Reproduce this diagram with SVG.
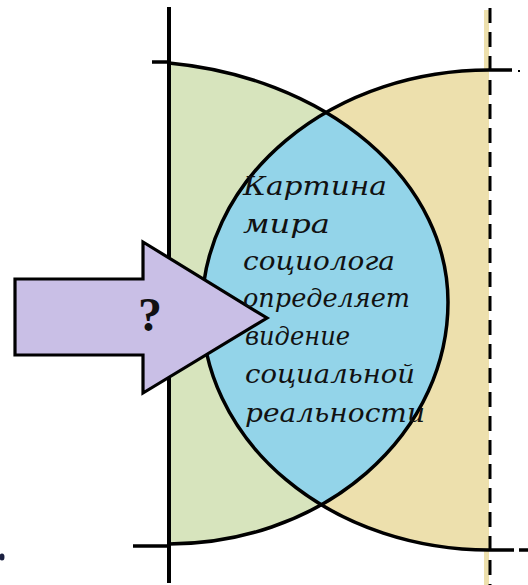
<svg xmlns="http://www.w3.org/2000/svg" width="528" height="585" viewBox="0 0 528 585">
<style>
.outline{fill:none;stroke:#000;stroke-width:3.5;stroke-linejoin:round}
.axis{stroke:#000;stroke-width:4;fill:none}
.tick{stroke:#000;stroke-width:3.5;fill:none}
.dash{stroke:#000;stroke-width:3;fill:none;stroke-dasharray:15 9}
.lbl{font-family:"DejaVu Serif","Liberation Serif",serif;font-style:italic;font-size:26px;fill:#111}
.q{font-family:"Liberation Serif","Times New Roman",serif;font-weight:bold;font-size:48px;fill:#111}
</style>
<defs>
<path id="leftShape" d="M169,63 A318,241 0 0,1 448,302 A279,242 0 0,1 169,544 Z"/>
<path id="rightShape" d="M489,70 A287,240 0 0,0 489,550 Z"/>
<clipPath id="clipRight"><use href="#rightShape"/></clipPath>
</defs>
<rect width="528" height="585" fill="#fff"/>
<g id="left-region">
<use href="#leftShape" fill="#D7E4BD"/>
</g>
<g id="right-region">
<use href="#rightShape" fill="#EDE0AD"/>
<rect x="484" y="10" width="5" height="575" fill="#EDE0AD"/>
</g>
<g id="lens">
<use href="#leftShape" fill="#93D4E9" clip-path="url(#clipRight)"/>
</g>
<g id="connectors">
<path class="outline" d="M169,63 A318,241 0 0,1 448,302 A279,242 0 0,1 169,544"/>
<path class="outline" d="M489,70 A287,240 0 0,0 489,550"/>
<line class="axis" x1="169" y1="7" x2="169" y2="583"/>
<line class="tick" x1="152" y1="62" x2="169" y2="62"/>
<line class="tick" x1="133" y1="546" x2="169" y2="546"/>
<line class="dash" x1="490" y1="8" x2="490" y2="585"/>
<line class="tick" x1="489" y1="70" x2="512" y2="70"/>
<rect x="518" y="70" width="2" height="2" fill="#000"/>
<line class="tick" x1="489" y1="550" x2="514" y2="550"/>
<line class="tick" x1="519" y1="550" x2="528" y2="550"/>
</g>
<g id="arrow">
<polygon points="15,279 143,279 143,242 267,318 143,393 143,355 15,355" fill="#C9BFE6" stroke="#000" stroke-width="3.2" stroke-linejoin="miter"/>
<text class="q" x="150" y="331" text-anchor="middle">?</text>
</g>
<g id="label">
<text class="lbl" x="243" y="195" textLength="144" lengthAdjust="spacingAndGlyphs">Картина</text>
<text class="lbl" x="243" y="233" textLength="87" lengthAdjust="spacingAndGlyphs">мира</text>
<text class="lbl" x="243" y="270" textLength="152" lengthAdjust="spacingAndGlyphs">социолога</text>
<text class="lbl" x="243" y="307" textLength="167" lengthAdjust="spacingAndGlyphs">определяет</text>
<text class="lbl" x="245" y="345" textLength="105" lengthAdjust="spacingAndGlyphs">видение</text>
<text class="lbl" x="245" y="383" textLength="170" lengthAdjust="spacingAndGlyphs">социальной</text>
<text class="lbl" x="245" y="422" textLength="180" lengthAdjust="spacingAndGlyphs">реальности</text>
</g>
<g id="fragment">
<ellipse cx="2" cy="557" rx="2.5" ry="3.5" fill="#1a2040"/>
</g>
</svg>
